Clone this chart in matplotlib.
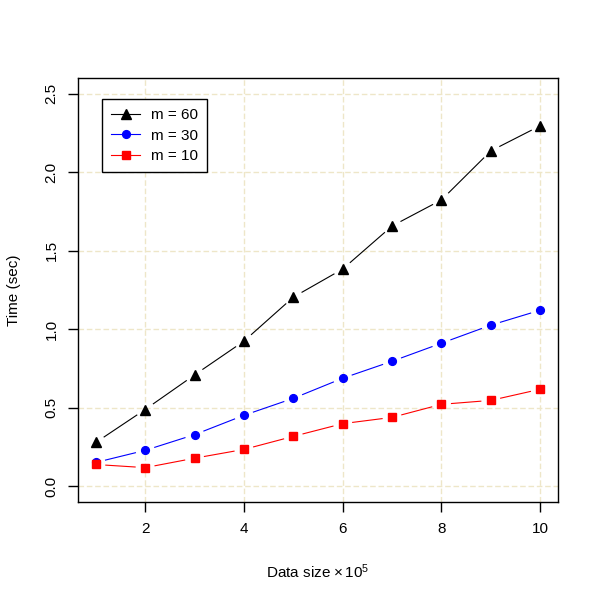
import numpy as np
import matplotlib
matplotlib.use("Agg")
import matplotlib.pyplot as plt
from matplotlib.lines import Line2D

plt.rcParams['font.family'] = ['Liberation Sans', 'DejaVu Sans']
plt.rcParams['mathtext.fontset'] = 'custom'
plt.rcParams['mathtext.rm'] = 'Liberation Sans'
plt.rcParams['mathtext.it'] = 'Liberation Sans:italic'

data_size = [1, 2, 3, 4, 5, 6, 7, 8, 9, 10]
m60 = [0.28, 0.49, 0.71, 0.925, 1.205, 1.384, 1.658, 1.824, 2.136, 2.296]
m30 = [0.153, 0.23, 0.33, 0.453, 0.561, 0.689, 0.797, 0.912, 1.027, 1.122]
m10 = [0.14, 0.12, 0.18, 0.236, 0.319, 0.40, 0.44, 0.523, 0.548, 0.619]
labels = ["m = 60", "m = 30", "m = 10"]
colors = ["black", "blue", "red"]
markers = ["^", "o", "s"]
msizes = [6.8, 5.6, 5.6]
series = [m60, m30, m10]
xticks = [2, 4, 6, 8, 10]
yticks = [0.0, 0.5, 1.0, 1.5, 2.0, 2.5]

fig = plt.figure(figsize=(6, 6), dpi=100)
ax = fig.add_axes([0.13, 0.163, 0.80, 0.707])
ax.set_xlim(0.64, 10.36)
ax.set_ylim(-0.1, 2.6)

grid_color = '#eee6c8'
for xv in xticks:
    ax.axvline(xv, color=grid_color, lw=1, ls=(0, (4, 2)), zorder=0)
for yv in yticks:
    ax.axhline(yv, color=grid_color, lw=1, ls=(0, (4, 2)), zorder=0)

fig.canvas.draw()
gap = 9.5  # pixels, like R type="b"
inv = ax.transData.inverted()
for ys, c, mk, ms in zip(series, colors, markers, msizes):
    pts = ax.transData.transform(np.column_stack([data_size, ys]))
    for i in range(len(pts) - 1):
        p0, p1 = pts[i], pts[i + 1]
        d = p1 - p0
        L = np.hypot(d[0], d[1])
        if L <= 2 * gap:
            continue
        u = d / L
        ab = inv.transform(np.array([p0 + u * gap, p1 - u * gap]))
        ax.plot(ab[:, 0], ab[:, 1], color=c, lw=0.8, zorder=2, solid_capstyle='butt')
    ax.plot(data_size, ys, ls='none', marker=mk, ms=ms, color=c, zorder=3)

ax.set_xticks(xticks)
ax.set_yticks(yticks)
ax.set_yticklabels([f"{v:.1f}" for v in yticks], rotation=90, va='center')
ax.tick_params(direction='out', length=7, width=1, labelsize=11, pad=7)
for s in ax.spines.values():
    s.set_linewidth(1)

ax.set_xlabel(r"Data size $\times\,10^5$", fontsize=11, labelpad=19)
ax.set_ylabel("Time (sec)", fontsize=11, labelpad=17)

handles = [Line2D([0], [0], color=c, marker=mk, ms=ms, lw=0.8)
           for c, mk, ms in zip(colors, markers, msizes)]
leg = ax.legend(handles, labels, loc='upper left', bbox_to_anchor=(0.05, 0.950),
                borderaxespad=0, fancybox=False, edgecolor='black', framealpha=1,
                fontsize=11, handlelength=1.9, borderpad=0.6, labelspacing=0.42,
                handletextpad=0.7)
leg.get_frame().set_linewidth(1)

fig.savefig("out.png", dpi=100)
